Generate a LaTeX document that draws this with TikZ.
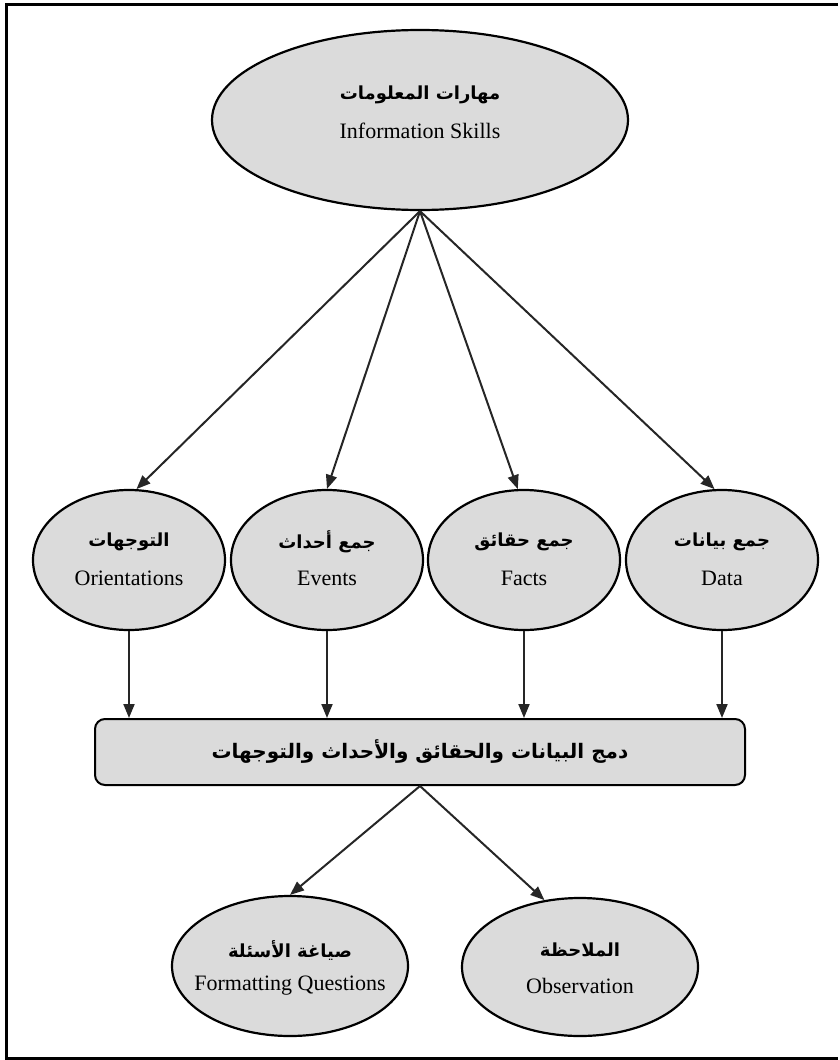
\documentclass[tikz,border=0pt]{standalone}
\usepackage{fontspec}
\setmainfont{Liberation Serif}
\newfontfamily\arabicfont[Script=Arabic]{DejaVu Sans}
\TeXXeTstate=1
\usetikzlibrary{arrows.meta,shapes.geometric}
\newcommand{\artxt}[1]{{\arabicfont\bfseries\fontsize{18}{23}\selectfont\beginR #1\endR}}
\newcommand{\boxtxt}[1]{{\arabicfont\bfseries\fontsize{20}{25}\selectfont\beginR #1\endR}}
\newcommand{\entxt}[1]{{\fontsize{22}{26}\selectfont #1}}
\begin{document}
\begin{tikzpicture}[x=1pt,y=-1pt,
  ell/.style={ellipse, draw=black, line width=2.2pt, fill=black!14, inner sep=0pt},
  conn/.style={line width=2pt, draw=black!85, -{Triangle[length=14pt,width=11pt]}},
  lbl/.style={inner sep=0pt, anchor=center}
]
\useasboundingbox (0,0) rectangle (840,1060);
\draw[line width=3pt] (838,4) -- (6,4) -- (6,1058) -- (838,1058);

% top
\node[ell, minimum width=416pt, minimum height=180pt] (top) at (420,120) {};
\node[lbl] (topar) at (420,95) {\artxt{مهارات المعلومات}};
\node[lbl] (topen) at (420,131) {\entxt{Information Skills}};

% middle
\node[ell, minimum width=192pt, minimum height=140pt] (orient) at (129,560) {};
\node[ell, minimum width=192pt, minimum height=140pt] (events) at (327,560) {};
\node[ell, minimum width=192pt, minimum height=140pt] (facts) at (524,560) {};
\node[ell, minimum width=192pt, minimum height=140pt] (data) at (722,560) {};

\node[lbl] (orientar) at (129,542) {\artxt{التوجهات}};
\node[lbl] (orienten) at (129,578) {\entxt{Orientations}};
\node[lbl] (eventsar) at (327,542) {\artxt{جمع أحداث}};
\node[lbl] (eventsen) at (327,578) {\entxt{Events}};
\node[lbl] (factsar) at (524,542) {\artxt{جمع حقائق}};
\node[lbl] (factsen) at (524,578) {\entxt{Facts}};
\node[lbl] (dataar) at (722,542) {\artxt{جمع بيانات}};
\node[lbl] (dataen) at (722,578) {\entxt{Data}};

% box
\node[draw=black, line width=2pt, rounded corners=10pt, fill=black!14,
      minimum width=650pt, minimum height=66pt] (box) at (420,752)
      {\boxtxt{دمج البيانات والحقائق والأحداث والتوجهات}};

% bottom
\node[ell, minimum width=236pt, minimum height=140pt] (form) at (290,966) {};
\node[ell, minimum width=236pt, minimum height=138pt] (obs) at (580,967) {};
\node[lbl] (formar) at (290,950) {\artxt{صياغة الأسئلة}};
\node[lbl] (formen) at (290,986) {\entxt{Formatting Questions}};
\node[lbl] (obsar) at (580,950) {\artxt{الملاحظة}};
\node[lbl] (obsen) at (580,986) {\entxt{Observation}};

% connectors
\draw[conn] (top.south) -- (orient.84);
\draw[conn] (top.south) -- (events.north);
\draw[conn] (top.south) -- (facts.95);
\draw[conn] (top.south) -- (data.96);

\draw[conn] (orient.south) -- (orient.south |- box.north);
\draw[conn] (events.south) -- (events.south |- box.north);
\draw[conn] (facts.south) -- (facts.south |- box.north);
\draw[conn] (data.south) -- (data.south |- box.north);

\draw[conn] (box.south) -- (form.north);
\draw[conn] (box.south) -- (obs.118);
\end{tikzpicture}
\end{document}
